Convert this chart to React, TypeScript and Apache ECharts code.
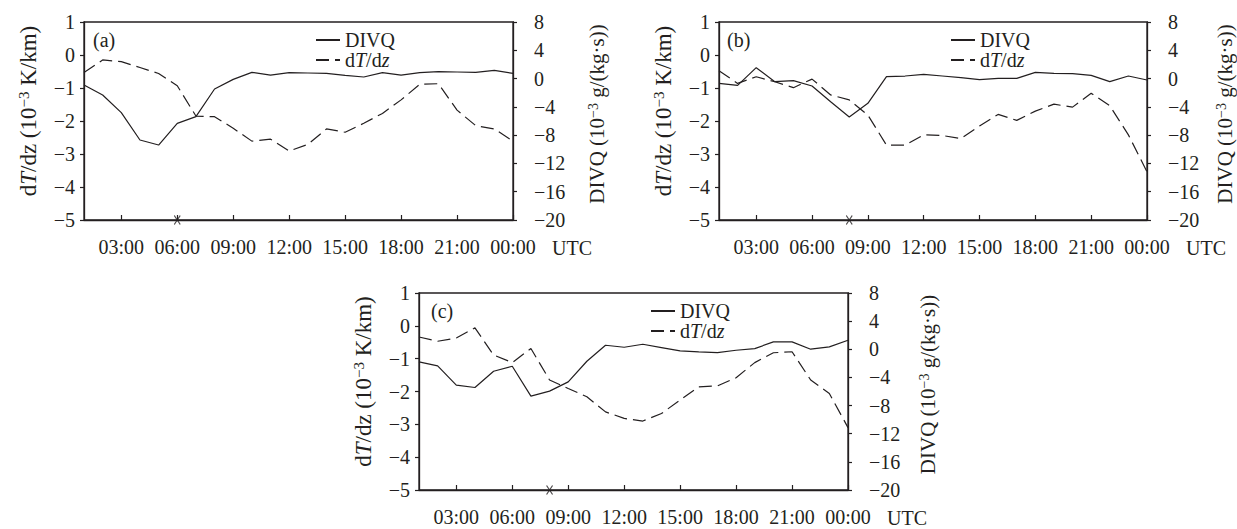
import React, { useEffect, useRef } from 'react';
import * as echarts from 'echarts';

// ---------- data ----------
const hours = [
  '01:00', '02:00', '03:00', '04:00', '05:00', '06:00', '07:00', '08:00',
  '09:00', '10:00', '11:00', '12:00', '13:00', '14:00', '15:00', '16:00',
  '17:00', '18:00', '19:00', '20:00', '21:00', '22:00', '23:00', '00:00',
];

// panel (a)
const dtdzA = [-0.53, -0.15, -0.2, -0.38, -0.56, -0.93, -1.85, -1.87, -2.22, -2.61, -2.55, -2.91,
  -2.71, -2.24, -2.34, -2.07, -1.77, -1.36, -0.89, -0.87, -1.67, -2.14, -2.24, -2.61];
const divqA = [-0.91, -2.33, -4.82, -8.69, -9.4, -6.33, -5.39, -1.48, -0.11, 0.88, 0.5, 0.83,
  0.79, 0.74, 0.46, 0.22, 0.83, 0.5, 0.83, 0.98, 0.93, 0.88, 1.16, 0.74];

// panel (b)
const dtdzB = [-0.48, -0.86, -0.66, -0.81, -0.99, -0.73, -1.21, -1.36, -1.82, -2.73, -2.73, -2.42,
  -2.44, -2.53, -2.15, -1.8, -1.98, -1.7, -1.49, -1.58, -1.16, -1.54, -2.42, -3.54];
const divqB = [-0.68, -0.96, 1.54, -0.44, -0.3, -1.05, -3.27, -5.44, -3.5, 0.27, 0.36, 0.6,
  0.36, 0.13, -0.16, 0.03, 0.03, 0.88, 0.74, 0.69, 0.46, -0.44, 0.36, -0.2];

// panel (c)
const dtdzC = [-0.34, -0.47, -0.37, -0.06, -0.89, -1.12, -0.69, -1.65, -1.91, -2.16, -2.62, -2.82,
  -2.9, -2.67, -2.26, -1.86, -1.83, -1.58, -1.12, -0.82, -0.79, -1.65, -2.06, -3.1];
const divqC = [-1.79, -2.36, -5.1, -5.43, -3.12, -2.41, -6.66, -5.95, -4.63, -1.7, 0.57, 0.29,
  0.72, 0.24, -0.23, -0.37, -0.47, -0.14, 0.1, 1.05, 1.05, 0.01, 0.34, 1.28];

const markerHours = ['06:00', '08:00', '08:00'];
const panelLabels = ['(a)', '(b)', '(c)'];
const seriesNames = ['DIVQ', 'dT/dz'];
const leftTicks = { min: -5, max: 1, step: 1 };
const rightTicks = { min: -20, max: 8, step: 4 };

// ---------- style / layout ----------
const FONT = '"Liberation Serif", "Times New Roman", serif';
const INK = '#231f20';
const FS = 20;

const layouts = [
  { left: 84, top: 22, width: 429, height: 198, rName: 84, lab: 9 },
  { left: 719, top: 22, width: 428, height: 198, rName: 78, lab: 8 },
  { left: 419, top: 293, width: 429, height: 197, rName: 80, lab: 12 },
];

const minus = (v: number) => (v < 0 ? '\u2212' + Math.abs(v) : String(v));
const every3 = (idx: number) => (idx + 1) % 3 === 0;

const mkRich = (fs: number) => ({
  r: { fontFamily: FONT, fontSize: fs, fill: INK, color: INK },
  i: { fontFamily: FONT, fontSize: fs, fontStyle: 'italic', fill: INK, color: INK },
  s: { fontFamily: FONT, fontSize: Math.round(fs * 0.65), fill: INK, color: INK, verticalAlign: 'top' },
});

function buildOption() {
  const data = [
    { dtdz: dtdzA, divq: divqA },
    { dtdz: dtdzB, divq: divqB },
    { dtdz: dtdzC, divq: divqC },
  ];
  const grid: any[] = [];
  const xAxis: any[] = [];
  const yAxis: any[] = [];
  const series: any[] = [];
  const legend: any[] = [];
  const graphic: any[] = [];

  layouts.forEach((L, i) => {
    const g = { left: L.left, top: L.top, width: L.width, height: L.height };
    grid.push({ ...g, show: true, borderColor: INK, borderWidth: 1.3, backgroundColor: 'transparent' });
    xAxis.push({
      type: 'category', gridIndex: i, data: hours, boundaryGap: false,
      axisLine: { onZero: false, lineStyle: { color: INK, width: 1.3 } },
      axisTick: { inside: true, length: 5, interval: every3, lineStyle: { color: INK, width: 1.2 } },
      axisLabel: { interval: every3, margin: 17, fontFamily: FONT, fontSize: FS, color: INK },
      splitLine: { show: false },
    });
    yAxis.push({
      type: 'value', gridIndex: i, position: 'left',
      min: leftTicks.min, max: leftTicks.max, interval: leftTicks.step,
      axisLine: { show: true, onZero: false, lineStyle: { color: INK, width: 1.3 } },
      axisTick: { show: true, length: 4, lineStyle: { color: INK, width: 1.2 } },
      axisLabel: { margin: 9, formatter: minus, fontFamily: FONT, fontSize: FS, color: INK },
      splitLine: { show: false },
    });
    yAxis.push({
      type: 'value', gridIndex: i, position: 'right',
      min: rightTicks.min, max: rightTicks.max, interval: rightTicks.step,
      axisLine: { show: true, onZero: false, lineStyle: { color: INK, width: 1.3 } },
      axisTick: { show: true, length: 4, lineStyle: { color: INK, width: 1.2 } },
      axisLabel: { margin: 21, formatter: minus, fontFamily: FONT, fontSize: FS, color: INK },
      splitLine: { show: false },
    });
    series.push({
      type: 'line', name: seriesNames[0], xAxisIndex: i, yAxisIndex: 2 * i + 1,
      data: data[i].divq, symbol: 'none', silent: true,
      lineStyle: { color: INK, width: 1.2, type: 'solid' }, itemStyle: { color: INK },
    });
    series.push({
      type: 'line', name: seriesNames[1], xAxisIndex: i, yAxisIndex: 2 * i,
      data: data[i].dtdz, symbol: 'none', silent: true,
      lineStyle: { color: INK, width: 1.2, type: [13, 6] }, itemStyle: { color: INK },
    });
    series.push({
      type: 'scatter', xAxisIndex: i, yAxisIndex: 2 * i, clip: false, silent: true, z: 5,
      data: [[markerHours[i], leftTicks.min]],
      symbol: 'path://M0,0L6,9M6,0L0,9', symbolSize: [6, 9],
      itemStyle: { color: 'none', borderColor: INK, borderWidth: 1.2 },
    });
    legend.push({
      left: g.left + 226, top: g.top + 3, orient: 'vertical', data: seriesNames,
      itemWidth: 24, itemHeight: 12, itemGap: 0, selectedMode: false,
      itemStyle: { opacity: 0 },
      formatter: (n: string) => (n === 'dT/dz' ? '{r|d}{i|T}{r|/d}{i|z}' : '{r|' + n + '}'),
      textStyle: { fontFamily: FONT, fontSize: FS, color: INK, rich: mkRich(FS) },
    });
    const bottom = g.top + g.height;
    graphic.push({
      type: 'text', x: g.left + L.lab, y: g.top + 18,
      style: { text: panelLabels[i], font: `${FS}px ${FONT}`, fill: INK, align: 'left', verticalAlign: 'middle' },
    });
    graphic.push({
      type: 'text', x: g.left + g.width + 59, y: bottom + 28,
      style: { text: 'UTC', font: `${FS}px ${FONT}`, fill: INK, align: 'center', verticalAlign: 'middle' },
    });
    graphic.push({
      type: 'text', x: g.left - 56, y: g.top + g.height / 2 - 10, rotation: Math.PI / 2,
      style: {
        text: '{r|d}{i|T}{r|/dz (10}{s|\u22123}{r| K/km)}', rich: mkRich(23),
        fill: INK, align: 'center', verticalAlign: 'middle',
      },
    });
    graphic.push({
      type: 'text', x: g.left + g.width + L.rName, y: g.top + g.height / 2 - 7, rotation: Math.PI / 2,
      style: {
        text: '{r|DIVQ (10}{s|\u22123}{r| g/(kg\u00b7s))}', rich: mkRich(21),
        fill: INK, align: 'center', verticalAlign: 'middle',
      },
    });
  });

  return {
    animation: false,
    backgroundColor: '#ffffff',
    textStyle: { fontFamily: FONT },
    grid, xAxis, yAxis, series, legend, graphic,
  };
}

export default function App() {
  const ref = useRef<HTMLDivElement>(null);
  useEffect(() => {
    const chart = echarts.init(ref.current!, null, { renderer: 'svg' });
    chart.setOption(buildOption() as any);
    return () => chart.dispose();
  }, []);
  return (
    <div
      ref={ref}
      style={{ position: 'absolute', left: 0, top: 0, width: 1237, height: 529, background: '#fff' }}
    />
  );
}
